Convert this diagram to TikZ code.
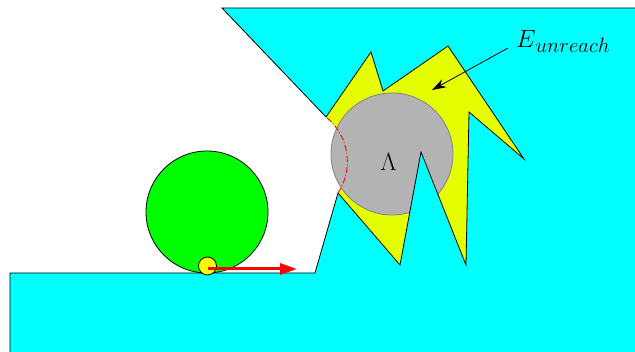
\documentclass[tikz,border=0pt]{standalone}
\usetikzlibrary{arrows.meta}
\definecolor{cyanfill}{RGB}{0,255,255}
\definecolor{yel}{RGB}{229,255,0}
\definecolor{grn}{RGB}{0,255,0}
\definecolor{gfill}{RGB}{179,179,179}
\definecolor{gline}{RGB}{128,128,128}
\definecolor{ballc}{RGB}{255,255,0}
\tikzset{
  outline/.style={draw=black, line width=0.8pt, line join=miter},
  bigdisc/.style={circle, minimum size=122pt, inner sep=0pt},
  lbl/.style={inner sep=0pt, font=\fontsize{23}{26}\selectfont}
}
\begin{document}
\begin{tikzpicture}[x=1pt,y=-1pt]
\useasboundingbox (0,0) rectangle (635,352);
\clip (0,0) rectangle (635,352);
% cyan body
\fill[cyanfill] (10,360) -- (10,273) -- (315,273) -- (338,193)
  .. controls (354.2,168.4) and (348.9,135.4) .. (326,117)
  -- (222,8) -- (640,8) -- (640,360) -- cycle;
% yellow region
\fill[yel] (326,117) -- (371,52) -- (383,91) -- (448,46) -- (524,159) -- (469,112)
  -- (466,265) -- (421,152) -- (400,265) -- (338,193)
  .. controls (354.2,168.4) and (348.9,135.4) .. (326,117) -- cycle;
% gray disc
\node[bigdisc, fill=gfill, draw=gline, line width=0.8pt] (lam) at (392,154) {};
% cyan wedge over the disc
\fill[cyanfill] (421,152) -- (466,265) -- (400,265) -- cycle;
% outlines
\draw[outline] (326,117) -- (371,52) -- (383,91) -- (448,46) -- (524,159) -- (469,112)
  -- (466,265) -- (421,152) -- (400,265) -- (338,193);
\draw[outline] (10,360) -- (10,273) -- (315,273) -- (338,193);
\draw[outline] (326,117) -- (222,8) -- (640,8);
% red dash-dot arc
\draw[red, line width=0.9pt, dash pattern=on 6pt off 2pt on 1pt off 2pt]
  (338,193) .. controls (354.2,168.4) and (348.9,135.4) .. (326,117);
\node[lbl] (lamlabel) at (388.7,162.5) {$\Lambda$};
% green disc and ball
\node[bigdisc, fill=grn, draw=black, line width=0.8pt] (wheel) at (207,212) {};
\node[circle, minimum size=18pt, inner sep=0pt, fill=ballc, draw=black, line width=0.8pt] (ball) at (207.5,266) {};
\coordinate (rtip) at (297,269);
\draw[red, line width=3pt, -{Triangle[length=17pt,width=11pt]}] ([yshift=-3pt]ball.center) -- (rtip);
% label
\node[lbl, anchor=base west] (elabel) at (516,47.5)
  {\fontsize{25}{28}\selectfont$E$\raisebox{-5.5pt}{\fontsize{22.8}{26}\selectfont$unreach$}};
\coordinate (etip) at (432,90);
\draw[black, line width=0.8pt, -{Stealth[length=14pt,width=9pt]}] ([xshift=-8pt,yshift=-0.5pt]elabel.base west) -- (etip);
\end{tikzpicture}
\end{document}
